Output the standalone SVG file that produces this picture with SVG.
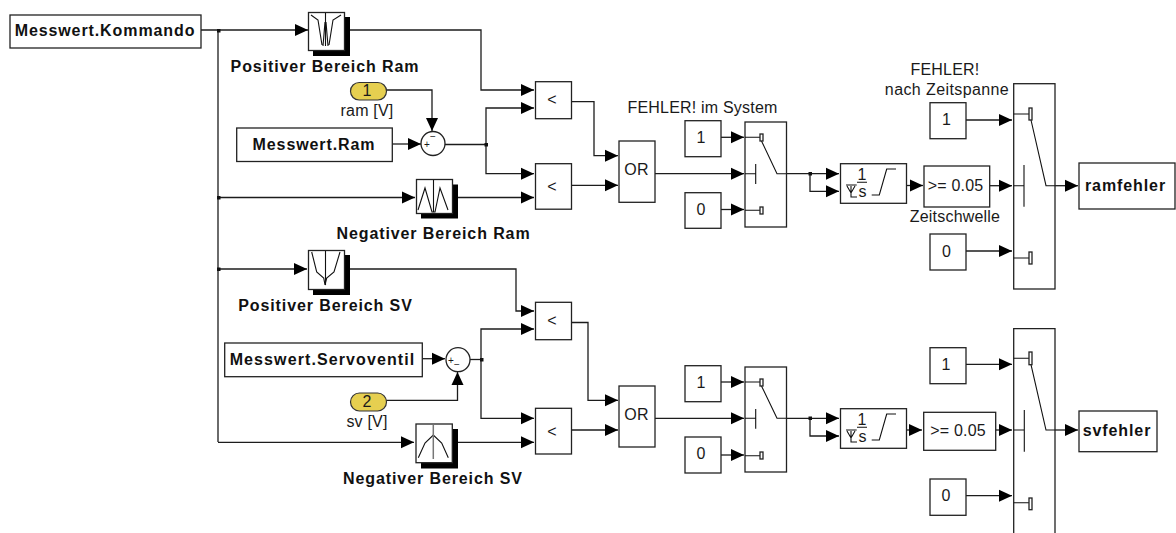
<svg xmlns="http://www.w3.org/2000/svg" width="1176" height="533" viewBox="0 0 1176 533">
<style>
.b{fill:#fff;stroke:#222;stroke-width:1.3}
.s{fill:#000;stroke:none}
.i{fill:none;stroke:#111;stroke-width:1.1}
.c{fill:none;stroke:#1c1c1c;stroke-width:1.3}
.a{marker-end:url(#ah)}
.o{fill:#e6cf50;stroke:#333;stroke-width:1.2}
text{font-family:"Liberation Sans",Arial,sans-serif;font-size:16px;letter-spacing:.2px;fill:#1a1a1a;text-anchor:middle}
.l{font-weight:bold;letter-spacing:.9px;fill:#111}
.j{fill:#111;stroke:none}
.t{font-size:10px;letter-spacing:0}
</style>
<defs>
<marker id="ah" markerUnits="userSpaceOnUse" markerWidth="14" markerHeight="14" refX="13" refY="7" orient="auto"><path d="M0,1L13,7L0,13Z" fill="#000"/></marker>
</defs>
<g id="connectors">
<path class="c a" d="M201,30H308"/>
<path class="c" d="M218,30V442"/>
<path class="c a" d="M218,197.500H415"/>
<path class="c a" d="M218,269H307"/>
<path class="c a" d="M218,442.300H414"/>
<path class="c a" d="M344,30H481V90H534"/>
<path class="c a" d="M386,90H432V131"/>
<path class="c a" d="M392,144H421"/>
<path class="c" d="M445,144.500H486"/>
<path class="c a" d="M486,144.500V108H534"/>
<path class="c a" d="M486,144.500V173.700H534"/>
<path class="c a" d="M452,197.500H534"/>
<path class="c a" d="M572,101.700H594V155.700H618"/>
<path class="c a" d="M572,185.300H618"/>
<path class="c a" d="M655,173.700H744"/>
<path class="c a" d="M721,137.300H744"/>
<path class="c a" d="M721,209.500H744"/>
<path class="c a" d="M786,173.700H839"/>
<path class="c a" d="M810,173.700V191.300H839"/>
<path class="c a" d="M906,185.500H923"/>
<path class="c a" d="M966,120H1012"/>
<path class="c a" d="M990,185.700H1012"/>
<path class="c a" d="M966,251H1012"/>
<path class="c a" d="M1055,185.700H1078"/>
<path class="c a" d="M344,269H516V311H534"/>
<path class="c a" d="M422,358.700H445"/>
<path class="c a" d="M386,400.300H457.500V372"/>
<path class="c" d="M470,359.500H481"/>
<path class="c a" d="M481,359.500V329H534"/>
<path class="c a" d="M481,359.500V418.300H534"/>
<path class="c a" d="M452,442.300H534"/>
<path class="c a" d="M572,322.500H588V400.300H618"/>
<path class="c a" d="M572,430H618"/>
<path class="c a" d="M655,418.300H744"/>
<path class="c a" d="M721,382H744"/>
<path class="c a" d="M721,455H744"/>
<path class="c a" d="M786,418.300H839"/>
<path class="c a" d="M810,418.300V436H839"/>
<path class="c a" d="M906,430H922"/>
<path class="c a" d="M966,364.300H1012"/>
<path class="c a" d="M996,430H1012"/>
<path class="c a" d="M966,495.700H1012"/>
<path class="c a" d="M1055,430H1078"/>
<rect class="j" x="217" y="29" width="3.500" height="3.500"/>
<rect class="j" x="217" y="196" width="3.500" height="3.500"/>
<rect class="j" x="217" y="267.500" width="3.500" height="3.500"/>
<rect class="j" x="484.500" y="143" width="3.500" height="3.500"/>
<rect class="j" x="480" y="358" width="3.500" height="3.500"/>
<rect class="j" x="808.500" y="172" width="3.500" height="3.500"/>
<rect class="j" x="808.500" y="416.500" width="3.500" height="3.500"/>
</g>
<g id="kommando"><rect class="b" x="10" y="15" width="191" height="33"/><text class="l" x="105" y="36">Messwert.Kommando</text></g>
<g id="pos-ram"><rect class="s" x="313" y="17" width="37" height="39"/><rect class="b" x="308.500" y="12.500" width="36" height="38"/><path class="i" d="M311,15L318,20L322,45M341,15L333,20L329,45M325.500,13V46M323,46L325,22M328,46L326,22"/><text class="l" x="325" y="72">Positiver Bereich Ram</text></g>
<g id="in-ram"><rect class="o" x="350.500" y="82.500" width="36" height="17.500" rx="8.700"/><text x="367" y="96">1</text><text x="367" y="116">ram [V]</text></g>
<g id="ram"><rect class="b" x="236.700" y="128" width="155.600" height="33.500"/><text class="l" x="314" y="150">Messwert.Ram</text></g>
<g id="sum-ram"><circle class="b" cx="433" cy="143.500" r="12"/><text class="t" x="427" y="148">+</text><text class="t" x="433" y="140">−</text></g>
<g id="neg-ram"><rect class="s" x="421" y="184.500" width="37" height="34"/><rect class="b" x="416.500" y="179.500" width="36" height="34"/><path class="i" d="M418,210L425,188L432,212L435,212L440,188L448,210M433.500,180V212"/><text class="l" x="433.500" y="239">Negativer Bereich Ram</text></g>
<g id="lt-1"><rect class="b" x="535.500" y="81.700" width="36" height="37"/><text x="552" y="105">&lt;</text></g>
<g id="lt-2"><rect class="b" x="535.500" y="163.700" width="36" height="45.500"/><text x="552" y="192">&lt;</text></g>
<g id="or-1"><rect class="b" x="619" y="141" width="36" height="61.300"/><text x="636.500" y="175">OR</text></g>
<g id="err-label"><text x="702.500" y="112.700">FEHLER! im System</text></g>
<g id="c1-a"><rect class="b" x="685" y="120.700" width="36" height="36"/><text x="701" y="143">1</text></g>
<g id="c0-a"><rect class="b" x="685" y="192.700" width="36" height="35.600"/><text x="701" y="215">0</text></g>
<g id="switch-a"><rect class="b" x="745" y="122" width="41.500" height="105"/><path class="i" d="M745,137.300H760M745,173.700H755.700M755.700,164V184M745,210.300H760M761.500,141L777,173.700H786"/><rect class="b" x="760" y="134" width="3" height="7"/><rect class="b" x="760" y="207" width="3" height="7"/></g>
<g id="int-a"><rect class="b" x="840.500" y="163.700" width="66" height="39.600"/><text x="862" y="180">1</text><text x="862.500" y="196.700">s</text><path class="i" d="M857,182.300H867M846,185H856.700M847,186L851,193L855,186M851,186V197H857M871.700,195H879.300L886.700,169H896"/></g>
<g id="cmp-a"><rect class="b" x="924" y="166" width="65.700" height="41"/><text x="955.500" y="191">&gt;= 0.05</text><text x="955" y="222">Zeitschwelle</text></g>
<g id="err2-label"><text x="945" y="75">FEHLER!</text><text x="947" y="95" style="letter-spacing:.4px">nach Zeitspanne</text></g>
<g id="c1-b"><rect class="b" x="930" y="102.700" width="36" height="36"/><text x="946.500" y="125">1</text></g>
<g id="c0-b"><rect class="b" x="930" y="234" width="36" height="36"/><text x="946.500" y="257">0</text></g>
<g id="switch-b"><rect class="b" x="1013.700" y="83.700" width="41.300" height="205.300"/><path class="i" d="M1013.700,114H1029M1013.700,185.700H1024M1024,165V206.700M1013.700,258H1029M1031,120L1046,185.700H1055"/><rect class="b" x="1029" y="108" width="3" height="12"/><rect class="b" x="1029" y="252" width="3" height="12"/></g>
<g id="ramfehler"><rect class="b" x="1079" y="163" width="96" height="46"/><text class="l" x="1125.500" y="191">ramfehler</text></g>
<g id="pos-sv"><rect class="s" x="313" y="255" width="37" height="40"/><rect class="b" x="308.500" y="250.500" width="36" height="39"/><path class="i" d="M311.700,252L316.700,272L323.700,278L325,285L326.700,278L334,272L340,252M325.500,251V285"/><text class="l" x="325.500" y="311">Positiver Bereich SV</text></g>
<g id="servo"><rect class="b" x="224.700" y="343" width="197.600" height="33.700"/><text class="l" x="322.500" y="365" style="letter-spacing:1.1px">Messwert.Servoventil</text></g>
<g id="sum-sv"><circle class="b" cx="458" cy="359.700" r="12"/><text class="t" x="451" y="364">+</text><text class="t" x="457" y="368">−</text></g>
<g id="in-sv"><rect class="o" x="350.500" y="393" width="36" height="18" rx="9"/><text x="367" y="407">2</text><text x="367" y="426.700">sv [V]</text></g>
<g id="neg-sv"><rect class="s" x="421" y="429" width="37" height="39.500"/><rect class="b" x="416" y="424" width="36.300" height="38.700"/><path class="i" d="M418.300,457.700L425,443L433.300,435L441.700,443L448.300,457.700"/><path d="M433.300,425V459" stroke="#777" stroke-width="1.500" fill="none"/><text class="l" x="433" y="484">Negativer Bereich SV</text></g>
<g id="lt-3"><rect class="b" x="535.500" y="302.300" width="36" height="37.400"/><text x="552" y="326">&lt;</text></g>
<g id="lt-4"><rect class="b" x="535.500" y="408.300" width="36" height="45.700"/><text x="552" y="437">&lt;</text></g>
<g id="or-2"><rect class="b" x="619" y="386" width="36" height="61"/><text x="636.500" y="420">OR</text></g>
<g id="c1-c"><rect class="b" x="685" y="365.700" width="36" height="36"/><text x="701" y="388">1</text></g>
<g id="c0-c"><rect class="b" x="685" y="437" width="36" height="36"/><text x="701" y="459">0</text></g>
<g id="switch-c"><rect class="b" x="745" y="367" width="41.500" height="105"/><path class="i" d="M745,382H760M745,418.300H755.700M755.700,409V428.700M745,455.700H760M761.500,386L777,418.300H786"/><rect class="b" x="760" y="379" width="3" height="7"/><rect class="b" x="760" y="452" width="3" height="7"/></g>
<g id="int-b"><rect class="b" x="840.500" y="408.700" width="66" height="39.600"/><text x="862" y="425">1</text><text x="862.500" y="441.700">s</text><path class="i" d="M857,427.300H867M846,430H856.700M847,431L851,438L855,431M851,431V442H857M871.700,440H879.300L886.700,414H896"/></g>
<g id="cmp-b"><rect class="b" x="923.700" y="412.300" width="72" height="38"/><text x="958" y="436">&gt;= 0.05</text></g>
<g id="c1-d"><rect class="b" x="930" y="347.700" width="36" height="36"/><text x="946" y="370">1</text></g>
<g id="c0-d"><rect class="b" x="930" y="479" width="36" height="36.300"/><text x="946" y="501">0</text></g>
<g id="switch-d"><path class="b" d="M1013.700,534V328.700H1055V534"/><path class="i" d="M1013.700,358.300H1029M1013.700,430H1024.300M1024.300,410V451.700M1013.700,502.700H1029M1031,364.700L1046,430H1055"/><rect class="b" x="1029" y="352" width="3" height="12.700"/><rect class="b" x="1029" y="498" width="3" height="11.700"/></g>
<g id="svfehler"><rect class="b" x="1079" y="411" width="78" height="40.700"/><text class="l" x="1117" y="436">svfehler</text></g>
</svg>
